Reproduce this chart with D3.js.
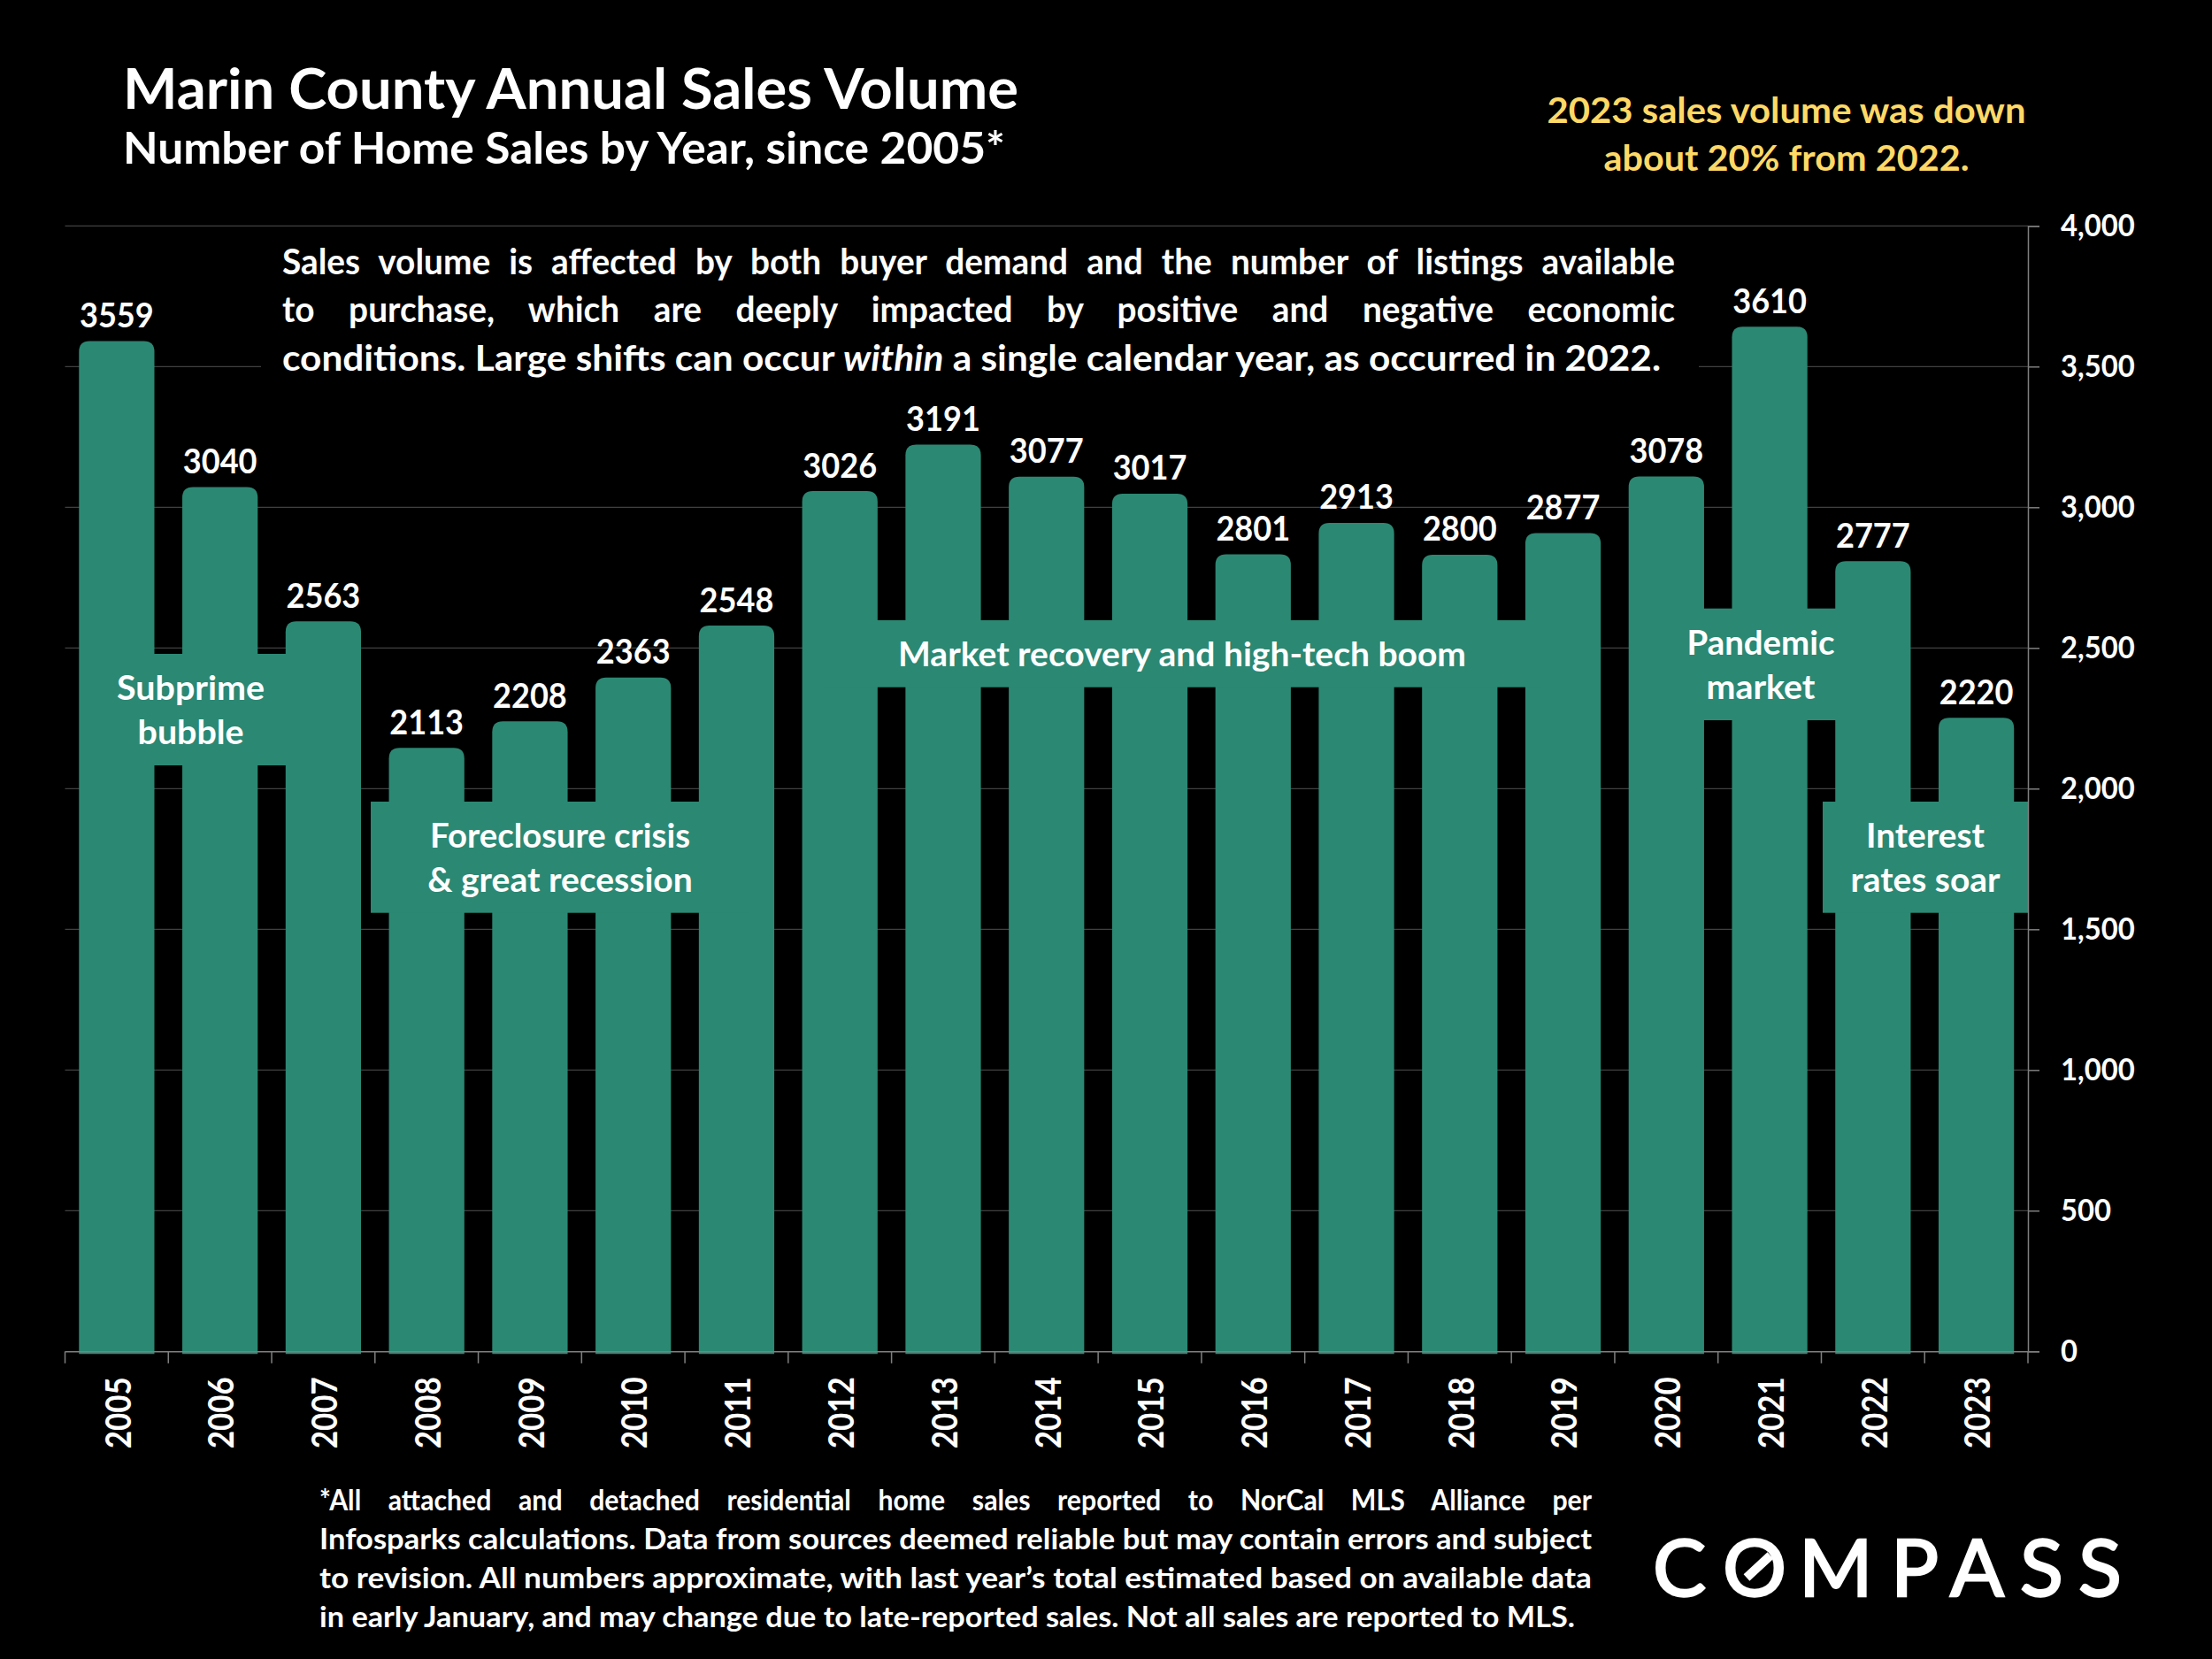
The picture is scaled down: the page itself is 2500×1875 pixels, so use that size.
<!DOCTYPE html>
<html>
<head>
<meta charset="utf-8">
<script src="https://cdn.jsdelivr.net/npm/d3@7"></script>
<style>
  html, body { margin: 0; padding: 0; background: #000; }
  svg { display: block; }
  text { font-family: Lato, sans-serif; font-weight: 700; fill: #fff; }
</style>
</head>
<body>
<div id="chart"></div>
<script>
const years = ['2005','2006','2007','2008','2009','2010','2011','2012','2013','2014','2015','2016','2017','2018','2019','2020','2021','2022','2023'];
const sales = [3559,3040,2563,2113,2208,2363,2548,3026,3191,3077,3017,2801,2913,2800,2877,3078,3610,2777,2220];
const yTicks = [0,500,1000,1500,2000,2500,3000,3500,4000];

const titleText = 'Marin County Annual Sales Volume';
const subtitleText = 'Number of Home Sales by Year, since 2005*';
const calloutLines = ['2023 sales volume was down', 'about 20% from 2022.'];
const introLines = [
  [['Sales volume is affected by both buyer demand and the number of listings available', false]],
  [['to purchase, which are deeply impacted by positive and negative economic', false]],
  [['conditions. Large shifts can occur ', false], ['within', true], [' a single calendar year, as occurred in 2022.', false]]
];
const footnoteLines = [
  '*All attached and detached residential home sales reported to NorCal MLS Alliance per',
  'Infosparks calculations. Data from sources deemed reliable but may contain errors and subject',
  'to revision. All numbers approximate, with last year\u2019s total estimated based on available data',
  'in early January, and may change due to late-reported sales. Not all sales are reported to MLS.'
];
const eraLabels = [
  ['Subprime', 'bubble'],
  ['Foreclosure crisis', '& great recession'],
  ['Market recovery and high-tech boom'],
  ['Pandemic', 'market'],
  ['Interest', 'rates soar']
];

const width = 2500, height = 1875;
const plot = { left: 73.5, right: 2292, top: 255.3, bottom: 1527.3 };
const teal = '#2b8873';
const barLift = 10, barRadius = 12, barDrop = 3;

const svg = d3.select('#chart').append('svg').attr('width', width).attr('height', height);
svg.append('rect').attr('width', width).attr('height', height).attr('fill', '#000');

const x = d3.scaleBand().domain(years).range([plot.left, plot.right]).paddingInner(0.27).paddingOuter(0.135);
const y = d3.scaleLinear().domain([0, 4000]).range([plot.bottom, plot.top]);

// squeeze a line to the width measured on the reference (Lato is stand-in for Calibri)
function fit (sel, w) {
  return sel.attr('textLength', w).attr('lengthAdjust', 'spacingAndGlyphs');
}

// condense every text in a selection by a factor of its natural width
function condense (sel, k) {
  sel.each(function () {
    fit(d3.select(this), this.getComputedTextLength() * k);
  });
}

// one line of a paragraph, condensed sideways; either justified by word gaps or forced to width
function paragraphLine (x0, y0, size, sx, target, justified) {
  const t = svg.append('text')
    .attr('transform', `translate(${x0},${y0}) scale(${sx},1)`)
    .attr('font-size', size);
  t.finish = function () {
    const node = t.node();
    if (justified) {
      const gaps = node.textContent.split(' ').length - 1;
      t.attr('word-spacing', (target / sx - node.getComputedTextLength()) / gaps);
    } else {
      fit(t, target / sx);
    }
  };
  return t;
}

// grid
svg.append('g').selectAll('line').data(yTicks.slice(1)).enter().append('line')
  .attr('x1', plot.left).attr('x2', plot.right)
  .attr('y1', d => y(d)).attr('y2', d => y(d))
  .attr('stroke', '#404040').attr('stroke-width', 1.25);

// black panel behind the intro text hides the 3,500 line
svg.append('rect').attr('x', 295).attr('y', 262).attr('width', 1625).attr('height', 170).attr('fill', '#000');

// bars, rounded on top only
const barPath = (d, i) => {
  const x0 = x(years[i]), x1 = x0 + x.bandwidth();
  const top = y(d) - barLift, bot = plot.bottom + barDrop, r = barRadius;
  return `M${x0},${bot}V${top + r}Q${x0},${top} ${x0 + r},${top}H${x1 - r}Q${x1},${top} ${x1},${top + r}V${bot}Z`;
};
svg.append('g').selectAll('path').data(sales).enter().append('path')
  .attr('d', barPath).attr('fill', teal);

// era boxes sit on the bars
const eraLayout = [
  { x0: 100, x1: 331, y0: 739, y1: 865, cx: 215.6, base: [790, 840], w: [167, 120] },
  { x0: 419, x1: 847, y0: 906, y1: 1031.7, cx: 633, base: [957, 1007], w: [294, 299.5] },
  { x0: 930, x1: 1742, y0: 701, y1: 776.7, cx: 1336, base: [752], w: [642] },
  { x0: 1860, x1: 2120, y0: 687.7, y1: 814, cx: 1990, base: [739, 789], w: [167, 123] },
  { x0: 2060, x1: 2292, y0: 906, y1: 1031.7, cx: 2176, base: [957, 1007], w: [134, 169] }
];
const eras = svg.append('g').selectAll('g').data(eraLayout).enter().append('g');
eras.append('rect')
  .attr('x', d => d.x0).attr('y', d => d.y0)
  .attr('width', d => d.x1 - d.x0).attr('height', d => d.y1 - d.y0)
  .attr('fill', teal);
eras.each(function (d, i) {
  eraLabels[i].forEach((line, k) => {
    fit(d3.select(this).append('text')
      .attr('x', d.cx).attr('y', d.base[k] + 0.5)
      .attr('text-anchor', 'middle').attr('font-size', 38.5)
      .text(line), d.w[k]);
  });
});

// value labels
const valueLabels = svg.append('g').selectAll('text').data(sales).enter().append('text')
  .attr('x', (d, i) => x(years[i]) + x.bandwidth() / 2)
  .attr('y', d => y(d) - 25.5)
  .attr('text-anchor', 'middle').attr('font-size', 38)
  .text(d => d);
condense(valueLabels, 0.95);

// right axis
const yAxisG = svg.append('g').attr('transform', `translate(${plot.right},0)`)
  .call(d3.axisRight(y).tickValues(yTicks).tickSize(13).tickPadding(24).tickFormat(d3.format(',')));
yAxisG.selectAll('.domain').attr('stroke', '#7f7f7f').attr('stroke-width', 1.5);
yAxisG.selectAll('line').attr('stroke', '#7f7f7f').attr('stroke-width', 1.5);
yAxisG.selectAll('text').attr('font-size', 34.5).attr('fill', '#fff')
  .style('font-family', 'Lato, sans-serif');
condense(yAxisG.selectAll('text'), 0.95);

// bottom axis, ticks fall between the bars
const xAxisG = svg.append('g').attr('transform', `translate(0,${plot.bottom})`)
  .call(d3.axisBottom(x).tickSize(0).tickPadding(0));
xAxisG.selectAll('.domain').attr('stroke', '#7f7f7f').attr('stroke-width', 1.5);
xAxisG.selectAll('text')
  .attr('transform', 'rotate(-90)')
  .attr('text-anchor', 'end').attr('x', -29).attr('y', 1).attr('dy', '0.36em')
  .attr('font-size', 41).attr('fill', '#fff')
  .style('font-family', 'Lato, sans-serif')
  .attr('textLength', 81).attr('lengthAdjust', 'spacingAndGlyphs');
const edges = years.map(d => x(d) - x.step() * x.paddingInner() / 2);
edges.push(plot.right);
xAxisG.append('g').selectAll('line').data(edges).enter().append('line')
  .attr('x1', d => d).attr('x2', d => d).attr('y1', 0).attr('y2', 13.5)
  .attr('stroke', '#7f7f7f').attr('stroke-width', 1.5);

// headings
fit(svg.append('text').attr('x', 139).attr('y', 122.5).attr('font-size', 64).text(titleText), 1012);
fit(svg.append('text').attr('x', 139).attr('y', 185).attr('font-size', 50).text(subtitleText), 997);
calloutLines.forEach((line, i) => {
  fit(svg.append('text').attr('x', 2019).attr('y', [139, 193][i])
    .attr('text-anchor', 'middle').attr('font-size', 40)
    .style('fill', '#ffd966').text(line), [541, 413][i]);
});

// intro paragraph
introLines.forEach((parts, i) => {
  const t = paragraphLine(319, [310, 364, 418.5][i], 40, 0.97, i < 2 ? 1574 : 1558, i < 2);
  parts.forEach(p => {
    t.append('tspan').attr('font-style', p[1] ? 'italic' : 'normal').text(p[0]);
  });
  t.finish();
});

// footnote
footnoteLines.forEach((line, i) => {
  const t = paragraphLine(361, [1706.7, 1751, 1795, 1838.5][i], 32, 0.945, i === 3 ? 1419 : 1438, i === 0);
  t.text(line);
  t.finish();
});

// logo
svg.append('text')
  .attr('x', '1868 1947 2033 2137 2204 2283 2349').attr('y', 1804)
  .attr('font-size', 90).style('font-weight', 400)
  .attr('stroke', '#fff').attr('stroke-width', 2.5)
  .text('COMPASS');
svg.append('line').attr('x1', 1974).attr('y1', 1783).attr('x2', 2001).attr('y2', 1758)
  .attr('stroke', '#fff').attr('stroke-width', 10);
</script>
</body>
</html>
